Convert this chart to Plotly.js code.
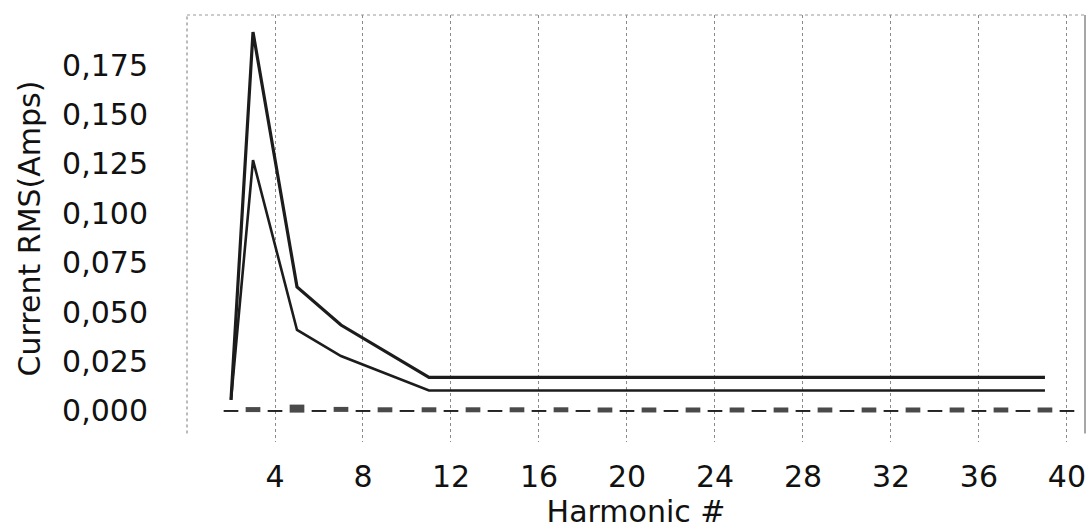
<!DOCTYPE html>
<html>
<head>
<meta charset="utf-8">
<script src="https://cdn.plot.ly/plotly-3.0.1.min.js"></script>
<style>
  html, body { margin: 0; padding: 0; background: #ffffff; }
  #chart { width: 1091px; height: 531px; }
</style>
</head>
<body>
<div id="chart"></div>
<script>
// Harmonic numbers where the two solid curves change direction
const lineHarmonics = [2, 3, 5, 7, 11, 39];
// Upper solid curve (Current RMS, Amps)
const upperValues = [0.0056, 0.1918, 0.0628, 0.0435, 0.0170, 0.0170];
// Lower solid curve (Current RMS, Amps)
const lowerValues = [0.0056, 0.1270, 0.0410, 0.0278, 0.0104, 0.0104];

// Dashed series near zero: one value per harmonic 2..40
const dashHarmonics = [2, 3, 4, 5, 6, 7, 8, 9, 10, 11, 12, 13, 14, 15, 16, 17, 18, 19, 20, 21,
                       22, 23, 24, 25, 26, 27, 28, 29, 30, 31, 32, 33, 34, 35, 36, 37, 38, 39, 40];
const dashValues = [0.0000, 0.0007, 0.0000, 0.0012, 0.0000, 0.0008, 0.0000, 0.0006, 0.0000, 0.0006,
                    0.0000, 0.0006, 0.0000, 0.0006, 0.0000, 0.0006, 0.0000, 0.0005, 0.0000, 0.0005,
                    0.0000, 0.0005, 0.0000, 0.0005, 0.0000, 0.0005, 0.0000, 0.0005, 0.0000, 0.0005,
                    0.0000, 0.0005, 0.0000, 0.0005, 0.0000, 0.0005, 0.0000, 0.0005, 0.0000];

// Tick labels
const xTickVals = [4, 8, 12, 16, 20, 24, 28, 32, 36, 40];
const xTickText = ['4', '8', '12', '16', '20', '24', '28', '32', '36', '40'];
const yTickVals = [0, 0.025, 0.05, 0.075, 0.1, 0.125, 0.15, 0.175];
const yTickText = ['0,000', '0,025', '0,050', '0,075', '0,100', '0,125', '0,150', '0,175'];

const FONT = 'DejaVu Sans, Liberation Sans, Arial, sans-serif';

// style arrays for the dashed series markers (thick on odd, thin on even)
const dashMarkerWidths = dashHarmonics.map(h => (h === 5 ? 8 : (h % 2 === 1 ? 5 : 1.8)));
const dashMarkerColors = dashHarmonics.map(h => (h % 2 === 1 ? '#4a4a4a' : '#111111'));

const traces = [
  {
    x: lineHarmonics, y: upperValues, type: 'scatter', mode: 'lines',
    line: { color: '#1c1c1c', width: 3.2 }, hoverinfo: 'x+y', showlegend: false
  },
  {
    x: lineHarmonics, y: lowerValues, type: 'scatter', mode: 'lines',
    line: { color: '#1c1c1c', width: 2.6 }, hoverinfo: 'x+y', showlegend: false
  },
  {
    x: dashHarmonics, y: dashValues, type: 'scatter', mode: 'markers',
    marker: {
      symbol: 'line-ew', size: 10.5,
      line: { width: dashMarkerWidths, color: dashMarkerColors }
    },
    hoverinfo: 'x+y', showlegend: false
  }
];

const layout = {
  width: 1091, height: 531,
  margin: { l: 187, r: 6, t: 15, b: 89 },
  paper_bgcolor: '#ffffff', plot_bgcolor: '#ffffff',
  separators: ',.',
  font: { family: FONT, size: 30, color: '#111111' },
  showlegend: false,
  xaxis: {
    range: [0, 40.82],
    tickmode: 'array', tickvals: xTickVals, ticktext: xTickText,
    ticks: 'outside', ticklen: 8, tickcolor: 'rgba(0,0,0,0)',
    tickfont: { family: FONT, size: 30, color: '#111111' },
    showgrid: true, gridcolor: '#8a8a8a', gridwidth: 1, griddash: 'dot',
    zeroline: false, showline: false,
    title: { text: 'Harmonic #', font: { family: FONT, size: 30, color: '#111111' }, standoff: 4 }
  },
  yaxis: {
    range: [-0.0157, 0.2004],
    tickmode: 'array', tickvals: yTickVals, ticktext: yTickText,
    ticks: 'outside', ticklen: 32, tickcolor: 'rgba(0,0,0,0)',
    tickfont: { family: FONT, size: 30, color: '#111111' },
    showgrid: false, zeroline: false, showline: false,
    title: { text: 'Current RMS(Amps)', font: { family: FONT, size: 30, color: '#111111' }, standoff: 12 }
  },
  shapes: [
    { type: 'line', xref: 'paper', yref: 'paper', x0: 0, x1: 0, y0: 0.02, y1: 1,
      line: { color: '#777777', width: 1, dash: 'dot' } },
    { type: 'line', xref: 'paper', yref: 'paper', x0: 0, x1: 1, y0: 1, y1: 1,
      line: { color: '#999999', width: 1, dash: 'dot' } },
    { type: 'line', xref: 'paper', yref: 'paper', x0: 1, x1: 1, y0: 0.02, y1: 1,
      line: { color: '#8a8a8a', width: 1.5 } }
  ]
};

Plotly.newPlot('chart', traces, layout, { displayModeBar: false, staticPlot: true });
</script>
</body>
</html>
